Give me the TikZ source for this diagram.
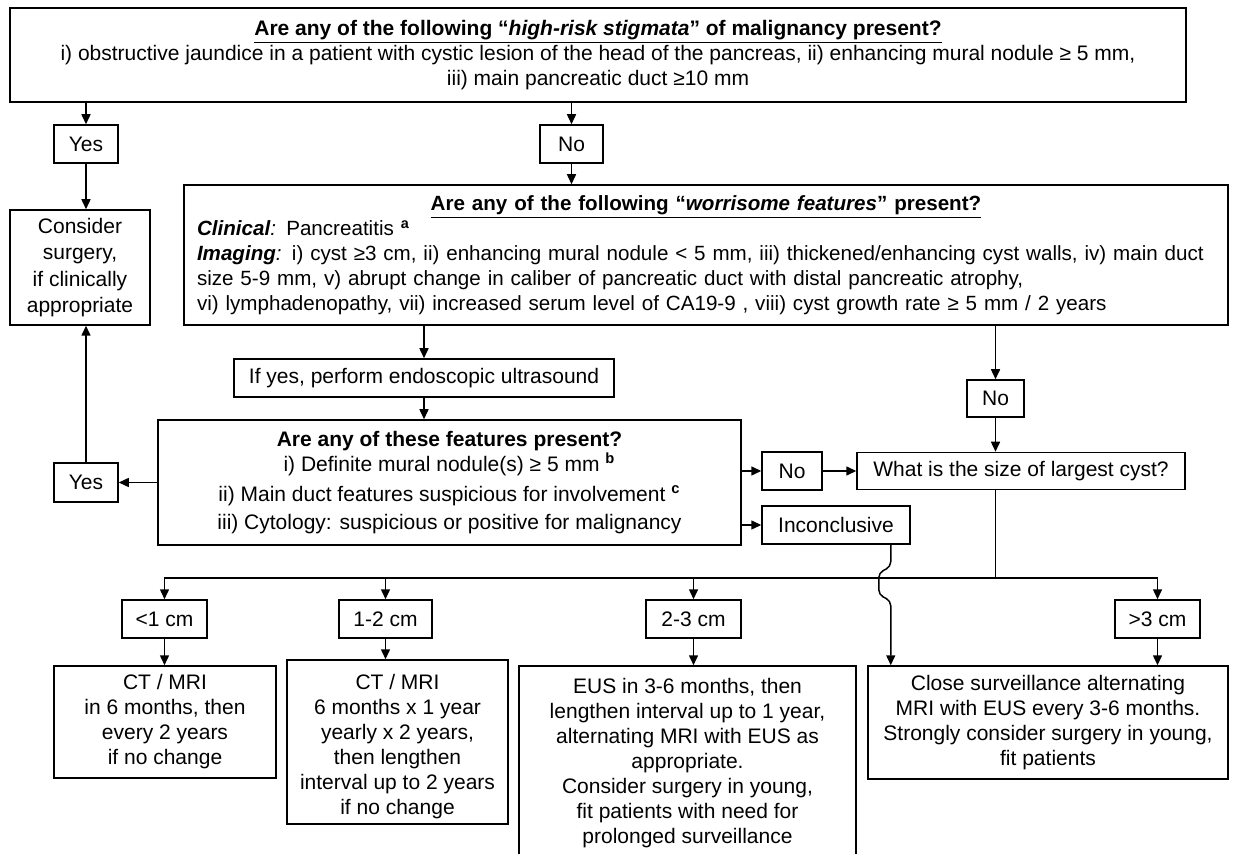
\documentclass[tikz,border=0pt]{standalone}
\usepackage{fontspec}
\setmainfont{Liberation Sans}
\usetikzlibrary{positioning,arrows.meta,calc}

\begin{document}
\begin{tikzpicture}[x=0.5pt, y=-0.5pt, font=\fontsize{10.5pt}{12.5pt}\selectfont,
    box/.style={draw, line width=0.75pt, inner sep=0pt, align=center},
    sizebox/.style={box, minimum height=19pt},
    arr/.style={-{Triangle[length=5pt,width=4.5pt]}, line width=0.75pt},
    ln/.style={line width=0.75pt}]
    \useasboundingbox (0,0) rectangle (1240,854);
    \node[box, minimum width=588pt, minimum height=47pt] (hrbox) at (598,55) {\underline{\textbf{Are any of the following “\textit{high-risk stigmata}” of malignancy present?}}\\i) obstructive jaundice in a patient with cystic lesion of the head of the pancreas, ii) enhancing mural nodule ≥ 5 mm,\\iii) main pancreatic duct ≥10 mm};
    \node[box, minimum width=32pt, minimum height=19pt] (yes1) at (86,144) {Yes};
    \node[box, minimum width=31.5pt, minimum height=19pt] (no1) at (571.5,144) {No};
    \node[box, minimum width=70pt, minimum height=57.5pt, font=\fontsize{10.5pt}{13.2pt}\selectfont] (surg) at (80,267.5) {Consider\\surgery,\\if clinically\\appropriate};
    \node[box, align=left, text width=509pt, inner xsep=6.5pt, minimum height=70pt, font=\fontsize{10.3pt}{12.5pt}\selectfont] (wfbox) at (706,255) {\hfill\underline{\textbf{Are any of the following “\textit{worrisome features}” present?}}\hfill\null\\{\bfseries\itshape Clinical}{\itshape :} Pancreatitis \textsuperscript{\textbf{a}}\\{\bfseries\itshape Imaging}{\itshape :} i) cyst ≥3 cm, ii) enhancing mural nodule < 5 mm, iii) thickened/enhancing cyst walls, iv) main duct\\size 5-9 mm, v) abrupt change in caliber of pancreatic duct with distal pancreatic atrophy,\\vi) lymphadenopathy, vii) increased serum level of CA19-9 , viii) cyst growth rate ≥ 5 mm / 2 years};
    \node[box, minimum width=190pt, minimum height=19pt] (eusq) at (424,378) {If yes, perform endoscopic ultrasound};
    \node[box, minimum width=28.5pt, minimum height=18.5pt] (no2) at (995.5,398.5) {No};
    \node[box, minimum width=291.5pt, minimum height=62.5pt] (featbox) at (449.5,482.5) {\textbf{Are any of these features present?}\\i) Definite mural nodule(s) ≥ 5 mm \textsuperscript{\textbf{b}}\\[2.5pt]ii) Main duct features suspicious for involvement \textsuperscript{\textbf{c}}\\[1.5pt]iii) Cytology: suspicious or positive for malignancy};
    \node[box, minimum width=32pt, minimum height=19.5pt] (yes2) at (86,482.5) {Yes};
    \node[box, minimum width=30pt, minimum height=19pt] (no3) at (792,471) {No};
    \node[box, minimum width=74pt, minimum height=19pt] (inconc) at (836,525) {Inconclusive};
    \node[box, minimum width=164pt, minimum height=18.5pt] (sizeq) at (1021,471) {What is the size of largest cyst?};
    \node[sizebox, minimum width=42.5pt] (s1) at (164.5,619) {<1 cm};
    \node[sizebox, minimum width=46.5pt] (s2) at (385.5,619) {1-2 cm};
    \node[sizebox, minimum width=47.5pt] (s3) at (693.5,619) {2-3 cm};
    \node[sizebox, minimum width=42.5pt] (s4) at (1157.5,619) {>3 cm};
    \node[box, minimum width=111pt, minimum height=56pt] (o1) at (165,722) {CT / MRI\\in 6 months, then\\every 2 years\\if no change};
    \node[box, minimum width=110.5pt, minimum height=82pt] (o2) at (397.5,742) {\rule{0pt}{12pt}CT / MRI\\6 months x 1 year\\yearly x 2 years,\\then lengthen\\interval up to 2 years\\if no change};
    \node[box, minimum width=168.5pt, minimum height=97pt] (o3) at (687.5,763) {EUS in 3-6 months, then\\lengthen interval up to 1 year,\\alternating MRI with EUS as\\appropriate.\\Consider surgery in young,\\fit patients with need for\\prolonged surveillance};
    \node[box, minimum width=180pt, minimum height=56.5pt] (o4) at (1048,722.5) {Close surveillance alternating\\MRI with EUS every 3-6 months.\\Strongly consider surgery in young,\\fit patients};
    \draw[arr] (hrbox.south -| yes1) -- (yes1.north);
    \draw[arr] (hrbox.south -| no1) -- (no1.north);
    \draw[arr] (yes1.south) -- (yes1.south |- surg.north);
    \draw[arr] (no1.south) -- (no1.south |- wfbox.north);
    \draw[arr] (wfbox.south -| eusq) -- (eusq.north);
    \draw[arr] (wfbox.south -| no2) -- (no2.north);
    \draw[arr] (eusq.south) -- (eusq.south |- featbox.north);
    \draw[arr] (no2.south) -- (no2.south |- sizeq.north);
    \draw[arr] (featbox.west |- yes2) -- (yes2.east);
    \draw[arr] (yes2.north) -- (yes2.north |- surg.south);
    \draw[arr] (featbox.east |- no3) -- (no3.west);
    \draw[arr] (no3.east) -- (no3.east -| sizeq.west);
    \draw[arr] (featbox.east |- inconc) -- (inconc.west);
    \coordinate (bus) at (995.5,578);
    \draw[ln] (sizeq.south -| bus) -- (bus);
    \draw[arr] (bus) -| (s1.north);
    \draw[arr] (bus) -| (s2.north);
    \draw[arr] (bus) -| (s3.north);
    \draw[arr] (bus) -| (s4.north);
    \draw[arr] (s1.south) -- (s1.south |- o1.north);
    \draw[arr] (s2.south) -- (s2.south |- o2.north);
    \draw[arr] (s3.south) -- (s3.south |- o3.north);
    \draw[arr] (s4.south) -- (s4.south |- o4.north);
    \coordinate (jmp) at ([xshift=-10pt]inconc.south east);
    \draw[arr, rounded corners=2.5pt] (jmp) -- ++(0,22) -- ++(-12,6) -- ++(0,22) -- ++(12,6) -- (jmp |- o4.north);
\end{tikzpicture}
\end{document}
